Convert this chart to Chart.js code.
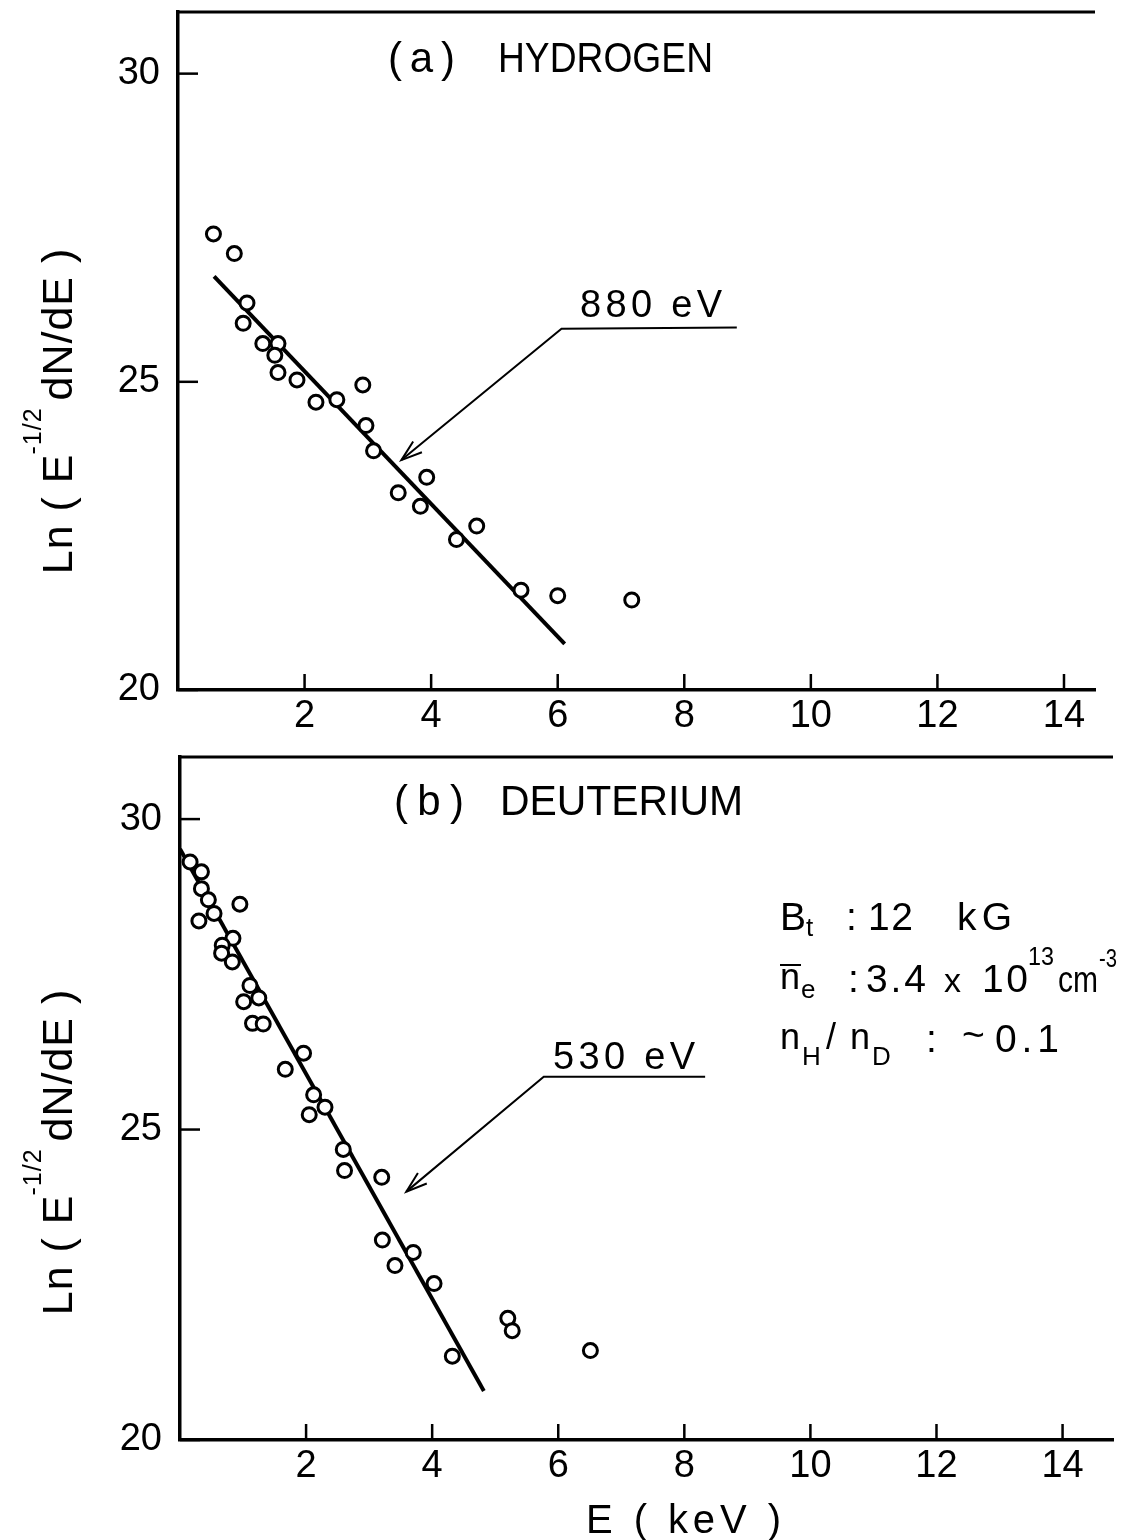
<!DOCTYPE html>
<html>
<head>
<meta charset="utf-8">
<script src="https://cdn.jsdelivr.net/npm/chart.js@4.4.0/dist/chart.umd.min.js"></script>
<style>
  body { margin: 0; background: #fff; }
  #wrap { position: relative; width: 1123px; height: 1540px; background: #fff; }
  canvas { position: absolute; left: 0; }
</style>
</head>
<body>
<div id="wrap">
  <canvas id="chartA" width="1123" height="745" style="top:0"></canvas>
  <canvas id="chartB" width="1123" height="795" style="top:745px"></canvas>
</div>
<script>
const FONT = '"Liberation Sans", Arial, sans-serif';

// axis ticks
const xTicks = [2, 4, 6, 8, 10, 12, 14];
const yTicks = [20, 25, 30];

// (a) hydrogen
const hE  = [0.56, 0.89, 1.09, 1.03, 1.34, 1.58, 1.53, 1.58, 1.88, 2.92, 2.18, 2.51, 2.97, 3.09, 3.93, 3.48, 3.83, 4.72, 4.40, 5.42, 6.00, 7.17];
const hLn = [27.40, 27.08, 26.28, 25.95, 25.62, 25.62, 25.43, 25.15, 25.03, 24.95, 24.67, 24.71, 24.29, 23.88, 23.45, 23.20, 22.98, 22.66, 22.44, 21.62, 21.53, 21.46];
const hFitE  = [0.57, 6.11];
const hFitLn = [26.71, 20.75];
const hArrowE  = [8.83, 6.06, 3.53];
const hArrowLn = [25.88, 25.86, 23.73];

// (b) deuterium
const dE  = [0.16, 0.34, 0.34, 0.45, 0.54, 0.30, 0.95, 0.84, 0.67, 0.66, 0.83, 1.11, 1.25, 1.01, 1.15, 1.32, 1.96, 1.67, 2.12, 2.30, 2.05, 2.59, 2.61, 3.20, 3.21, 3.70, 3.41, 4.03, 5.20, 5.27, 6.51, 4.32];
const dLn = [29.31, 29.15, 28.88, 28.70, 28.48, 28.36, 28.63, 28.08, 27.97, 27.84, 27.70, 27.32, 27.12, 27.06, 26.71, 26.70, 26.23, 25.97, 25.56, 25.36, 25.24, 24.68, 24.34, 24.23, 23.22, 23.02, 22.81, 22.52, 21.96, 21.76, 21.44, 21.35];
const dFitE  = [0, 4.82];
const dFitLn = [29.52, 20.79];
const dArrowE  = [8.33, 5.77, 3.59];
const dArrowLn = [25.85, 25.85, 24.00];

const toXY = (xs, ys) => xs.map((x, i) => ({ x, y: ys[i] }));

// text that is stretched to a given width (letter spacing, or squeeze if too wide)
function fitText(ctx, str, x, y, size, width) {
  ctx.save();
  ctx.font = size + 'px ' + FONT;
  ctx.letterSpacing = '0px';
  ctx.textAlign = 'left';
  ctx.textBaseline = 'alphabetic';
  const w = ctx.measureText(str).width;
  if (!width || str.length < 2) {
    ctx.fillText(str, x, y);
  } else if (width >= w) {
    ctx.letterSpacing = ((width - w) / (str.length - 1)) + 'px';
    ctx.fillText(str, x, y);
  } else {
    ctx.translate(x, y);
    ctx.scale(width / w, 1);
    ctx.fillText(str, 0, 0);
  }
  ctx.restore();
}

function drawYTitle(ctx, cx, cy) {
  const parts = [
    { t: 'Ln ( E', s: 43 },
    { t: '-1/2', s: 25, dy: -31, dx: -1 },
    { t: ' dN/dE )', s: 43, dx: -6 }
  ];
  ctx.save();
  ctx.translate(cx, cy);
  ctx.rotate(-Math.PI / 2);
  ctx.fillStyle = '#000';
  ctx.letterSpacing = '1px';
  let total = 0;
  parts.forEach(p => { ctx.font = p.s + 'px ' + FONT; total += ctx.measureText(p.t).width + (p.dx || 0); });
  let px = -total / 2;
  parts.forEach(p => {
    ctx.font = p.s + 'px ' + FONT;
    px += (p.dx || 0);
    ctx.fillText(p.t, px, p.dy || 0);
    px += ctx.measureText(p.t).width;
  });
  ctx.restore();
}

function drawFrame(chart) {
  const { ctx, chartArea: a, scales: { x, y } } = chart;
  ctx.save();
  ctx.strokeStyle = '#000';
  // top border
  ctx.lineWidth = 3;
  ctx.beginPath();
  ctx.moveTo(a.left, a.top);
  ctx.lineTo(a.right, a.top);
  ctx.stroke();
  // inward tick marks
  ctx.lineWidth = 2.5;
  xTicks.forEach(v => {
    const px = x.getPixelForValue(v);
    ctx.beginPath();
    ctx.moveTo(px, a.bottom);
    ctx.lineTo(px, a.bottom - 16);
    ctx.stroke();
  });
  yTicks.forEach(v => {
    const py = y.getPixelForValue(v);
    ctx.beginPath();
    ctx.moveTo(a.left, py);
    ctx.lineTo(a.left + 20, py);
    ctx.stroke();
  });
  ctx.restore();
}

function drawArrowHead(chart, xs, ys) {
  const { ctx, scales: { x, y } } = chart;
  const n = xs.length;
  const x1 = x.getPixelForValue(xs[n - 2]), y1 = y.getPixelForValue(ys[n - 2]);
  const x2 = x.getPixelForValue(xs[n - 1]), y2 = y.getPixelForValue(ys[n - 1]);
  const ang = Math.atan2(y2 - y1, x2 - x1);
  const len = 22, spread = 0.32;
  ctx.save();
  ctx.strokeStyle = '#000';
  ctx.lineWidth = 2;
  ctx.beginPath();
  ctx.moveTo(x2 - len * Math.cos(ang - spread), y2 - len * Math.sin(ang - spread));
  ctx.lineTo(x2, y2);
  ctx.lineTo(x2 - len * Math.cos(ang + spread), y2 - len * Math.sin(ang + spread));
  ctx.stroke();
  ctx.restore();
}

function makeChart(id, pts, fit, arrow, opts) {
  const ctx = document.getElementById(id).getContext('2d');
  return new Chart(ctx, {
    type: 'scatter',
    data: {
      datasets: [
        {
          data: pts,
          pointStyle: 'circle',
          pointRadius: 7,
          pointBorderWidth: 3,
          borderColor: '#000',
          backgroundColor: '#fff',
          order: 0
        },
        {
          data: fit,
          showLine: true,
          borderColor: '#000',
          borderWidth: 4,
          pointRadius: 0,
          order: 1
        },
        {
          data: arrow,
          showLine: true,
          borderColor: '#000',
          borderWidth: 2,
          pointRadius: 0,
          order: 2
        }
      ]
    },
    options: {
      responsive: false,
      animation: false,
      events: [],
      layout: { padding: { top: 12, right: opts.padRight, left: 0, bottom: 0 } },
      plugins: { legend: { display: false }, tooltip: { enabled: false } },
      scales: {
        x: {
          type: 'linear',
          min: 0,
          max: opts.xMax,
          afterBuildTicks: s => { s.ticks = xTicks.map(v => ({ value: v })); },
          afterFit: s => { s.height = opts.xHeight; s.paddingLeft = 0; s.paddingRight = 0; },
          grid: { display: false, drawTicks: false },
          border: { display: true, color: '#000', width: 3.5 },
          ticks: { color: '#000', padding: 4, maxRotation: 0, font: { family: FONT, size: 38 } }
        },
        y: {
          type: 'linear',
          min: 20,
          max: 31,
          afterBuildTicks: s => { s.ticks = yTicks.map(v => ({ value: v })); },
          afterFit: s => { s.width = opts.yWidth; s.paddingTop = 0; s.paddingBottom = 0; },
          grid: { display: false, drawTicks: false },
          border: { display: true, color: '#000', width: 3.5 },
          ticks: { color: '#000', padding: 18, font: { family: FONT, size: 38 } }
        }
      }
    },
    plugins: [{
      id: 'decor',
      afterDraw(chart) {
        drawFrame(chart);
        drawArrowHead(chart, opts.arrowE, opts.arrowLn);
        chart.ctx.fillStyle = '#000';
        opts.texts(chart.ctx);
      }
    }]
  });
}

makeChart('chartA', toXY(hE, hLn), toXY(hFitE, hFitLn), toXY(hArrowE, hArrowLn), {
  padRight: 28, xMax: 14.49, xHeight: 55, yWidth: 178,
  arrowE: hArrowE, arrowLn: hArrowLn,
  texts: ctx => {
    fitText(ctx, '(a)', 388, 72, 42, 67);
    fitText(ctx, 'HYDROGEN', 498, 72, 42, 215);
    fitText(ctx, '880 eV', 580, 317, 38, 142);
    drawYTitle(ctx, 72, 411);
  }
});

makeChart('chartB', toXY(dE, dLn), toXY(dFitE, dFitLn), toXY(dArrowE, dArrowLn), {
  padRight: 5, xMax: 14.8, xHeight: 100, yWidth: 180,
  arrowE: dArrowE, arrowLn: dArrowLn,
  texts: ctx => {
    fitText(ctx, '(b)', 394, 70, 42, 70);
    fitText(ctx, 'DEUTERIUM', 500, 70, 42, 243);
    fitText(ctx, '530 eV', 553, 324, 38, 142);
    fitText(ctx, 'E ( keV )', 586, 788, 40, 195);
    drawYTitle(ctx, 72, 407);

    // plasma parameters
    fitText(ctx, 'B', 780, 185, 39);
    fitText(ctx, 't', 806, 191, 26);
    fitText(ctx, ':', 846, 185, 39);
    fitText(ctx, '12', 868, 185, 39, 45);
    fitText(ctx, 'kG', 957, 185, 39, 55);

    fitText(ctx, 'n', 780, 244, 36);
    ctx.save();
    ctx.strokeStyle = '#000';
    ctx.lineWidth = 2;
    ctx.beginPath(); ctx.moveTo(780, 220); ctx.lineTo(801, 220); ctx.stroke();
    ctx.restore();
    fitText(ctx, 'e', 801, 253, 26);
    fitText(ctx, ':', 848, 247, 39);
    fitText(ctx, '3.4', 866, 247, 39, 60);
    fitText(ctx, 'x', 944, 247, 34);
    fitText(ctx, '10', 982, 247, 39, 46);
    fitText(ctx, '13', 1028, 220, 26, 26);
    fitText(ctx, 'cm', 1058, 247, 36, 40);
    fitText(ctx, '-3', 1099, 222, 26, 18);

    fitText(ctx, 'n', 780, 304, 36);
    fitText(ctx, 'H', 802, 320, 26);
    fitText(ctx, '/', 826, 304, 36);
    fitText(ctx, 'n', 850, 304, 36);
    fitText(ctx, 'D', 872, 320, 26);
    fitText(ctx, ':', 926, 307, 39);
    fitText(ctx, '~', 962, 303, 39, 24);
    fitText(ctx, '0.1', 995, 307, 39, 64);
  }
});
</script>
</body>
</html>
